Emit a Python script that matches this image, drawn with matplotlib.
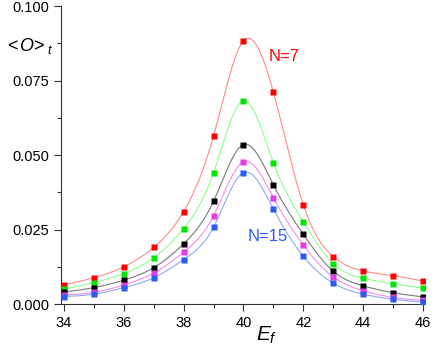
import numpy as np
import matplotlib
matplotlib.use("Agg")
import matplotlib.pyplot as plt
from matplotlib.ticker import MultipleLocator, FormatStrFormatter

plt.rcParams['font.family'] = ['Liberation Sans', 'DejaVu Sans']
plt.rcParams['mathtext.fontset'] = 'custom'
plt.rcParams['mathtext.it'] = 'Liberation Sans:italic'
plt.rcParams['mathtext.rm'] = 'Liberation Sans'

ef = [34, 35, 36, 37, 38, 39, 40, 41, 42, 43, 44, 45, 46]
red = [0.0065, 0.0088, 0.0125, 0.0190, 0.0310, 0.0564, 0.0883, 0.0711, 0.0333, 0.0159, 0.0111, 0.0095, 0.0077]
green = [0.0050, 0.0072, 0.0102, 0.0155, 0.0253, 0.0440, 0.0682, 0.0474, 0.0276, 0.0135, 0.0086, 0.0068, 0.0053]
black = [0.0040, 0.0055, 0.0080, 0.0122, 0.0202, 0.0345, 0.0535, 0.0400, 0.0234, 0.0110, 0.0061, 0.0038, 0.0024]
magenta = [0.0030, 0.0039, 0.0064, 0.0104, 0.0174, 0.0296, 0.0477, 0.0357, 0.0198, 0.0091, 0.0045, 0.0022, 0.0012]
blue = [0.0025, 0.0033, 0.0055, 0.0088, 0.0149, 0.0258, 0.0441, 0.0319, 0.0160, 0.0070, 0.0033, 0.0016, 0.0006]

series = [
    (red, '#ff0000', '#ff8a8a'),
    (green, '#00e600', '#8cff8c'),
    (black, '#000000', '#7a7a7a'),
    (magenta, '#e53be5', '#f28cf2'),
    (blue, '#2a5cf5', '#8fa8f5'),
]


def natural_spline(x, y, n=400):
    x = np.asarray(x, float)
    y = np.asarray(y, float)
    m = len(x)
    h = np.diff(x)
    A = np.zeros((m, m))
    b = np.zeros(m)
    A[0, 0] = 1
    A[-1, -1] = 1
    for i in range(1, m - 1):
        A[i, i - 1] = h[i - 1]
        A[i, i] = 2 * (h[i - 1] + h[i])
        A[i, i + 1] = h[i]
        b[i] = 3 * ((y[i + 1] - y[i]) / h[i] - (y[i] - y[i - 1]) / h[i - 1])
    c = np.linalg.solve(A, b)
    xs = np.linspace(x[0], x[-1], n)
    idx = np.clip(np.searchsorted(x, xs) - 1, 0, m - 2)
    dx = xs - x[idx]
    bb = (y[idx + 1] - y[idx]) / h[idx] - h[idx] * (2 * c[idx] + c[idx + 1]) / 3
    dd = (c[idx + 1] - c[idx]) / (3 * h[idx])
    ys = y[idx] + bb * dx + c[idx] * dx ** 2 + dd * dx ** 3
    return xs, ys


fig = plt.figure(figsize=(4.36, 3.54), dpi=100)
ax = fig.add_axes([0.1399, 0.1412, 0.835, 0.8418])

for vals, mc, lc in series:
    xs, ys = natural_spline(ef, vals)
    ax.plot(xs, ys, color=lc, lw=0.8, zorder=2)
    ax.plot(ef, vals, 's', color=mc, ms=5, mec='none', zorder=3)

ax.set_xlim(33.9, 46.07)
ax.set_ylim(0, 0.1)
ax.xaxis.set_major_locator(MultipleLocator(2))
ax.xaxis.set_minor_locator(MultipleLocator(1))
ax.yaxis.set_major_locator(MultipleLocator(0.025))
ax.yaxis.set_minor_locator(MultipleLocator(0.0125))
ax.yaxis.set_major_formatter(FormatStrFormatter('%.3f'))

for s in ['top', 'right']:
    ax.spines[s].set_visible(False)
for s in ['left', 'bottom']:
    ax.spines[s].set_color('#333333')
    ax.spines[s].set_linewidth(0.8)
ax.tick_params(which='major', direction='out', length=5, width=0.8, color='#333333', labelsize=10.5)
ax.tick_params(which='minor', direction='out', length=3, width=0.8, color='#333333')

ax.text(41.36, 0.083, 'N=7', color='#ff0000', fontsize=12, ha='center', va='center')
ax.text(40.8, 0.0228, 'N=15', color='#2a5cf5', fontsize=12, ha='center', va='center')

fig.text(0.012, 0.87, r'$<\!O\!>_t$', fontsize=13, ha='left', va='center')
fig.text(0.612, 0.052, r'$E_f$', fontsize=15, ha='center', va='center')

fig.savefig('out.png', dpi=100)
